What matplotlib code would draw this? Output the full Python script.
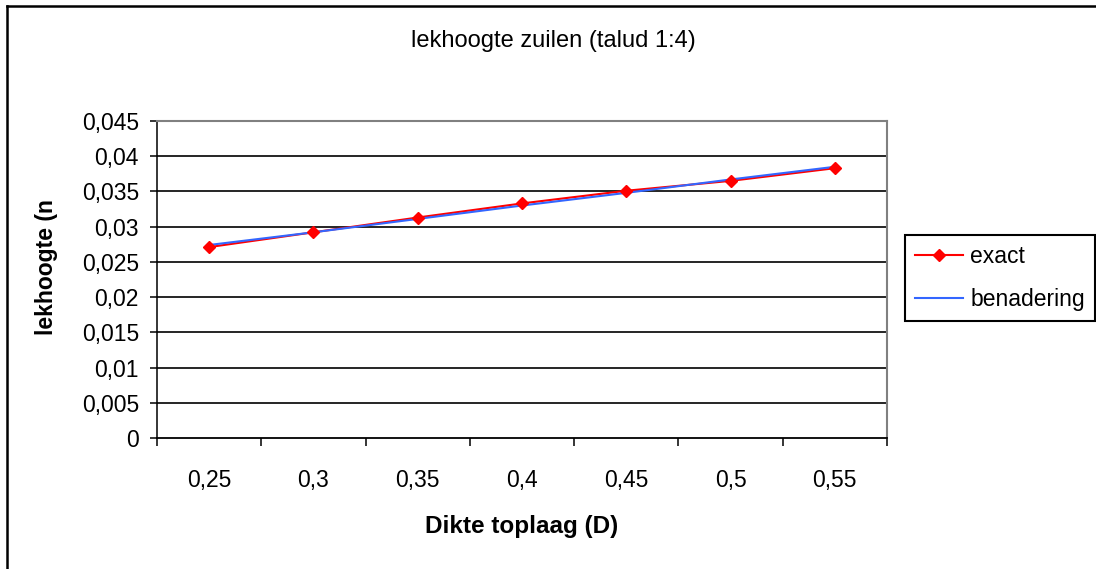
"""
Leakage height of column revetment (slope 1:4) versus top-layer thickness:
exact solution against the approximation formula.
"""

import matplotlib

matplotlib.use("Agg")

import matplotlib.pyplot as plt
from matplotlib.lines import Line2D

# ============================================================================
# Data
# ============================================================================

THICKNESS_LABELS = ["0,25", "0,3", "0,35", "0,4", "0,45", "0,5", "0,55"]
EXACT = [0.0271, 0.0292, 0.0313, 0.0333, 0.0351, 0.0365, 0.0383]
APPROX = [0.0274, 0.0292, 0.0311, 0.0330, 0.0348, 0.0367, 0.0385]

Y_TICKS = [0.0, 0.005, 0.01, 0.015, 0.02, 0.025, 0.03, 0.035, 0.04, 0.045]
Y_TICK_LABELS = ["0", "0,005", "0,01", "0,015", "0,02", "0,025", "0,03",
                 "0,035", "0,04", "0,045"]

TITLE = "lekhoogte zuilen (talud 1:4)"
X_LABEL = "Dikte toplaag (D)"
Y_LABEL = "lekhoogte (n"

# ============================================================================
# Style
# ============================================================================

W, H = 1096, 569
DPI = 100
FONT_SIZE = 16.5
RED = "#ff0000"
BLUE = "#3366ff"

plt.rcParams["font.family"] = ["Liberation Sans", "DejaVu Sans"]
plt.rcParams["font.size"] = FONT_SIZE


def px_x(x):
    return x / W


def px_y(y):
    return 1 - y / H


def main():
    fig = plt.figure(figsize=(W / DPI, H / DPI), dpi=DPI)
    fig.patch.set_facecolor("white")

    # plot area in pixel coordinates: left, top, right, bottom
    left, top, right, bottom = 157, 121, 887, 438
    ax = fig.add_axes([px_x(left), px_y(bottom),
                       (right - left) / W, (bottom - top) / H])

    xs = list(range(len(THICKNESS_LABELS)))

    ax.plot(xs, EXACT, color=RED, linewidth=1.5, zorder=3)
    ax.plot(xs, APPROX, color=BLUE, linewidth=1.5, zorder=4)
    ax.plot(xs, EXACT, linestyle="none", marker="D", markersize=6.2,
            color=RED, markeredgecolor=RED, zorder=5)

    ax.set_xlim(-0.5, len(xs) - 0.5)
    ax.set_ylim(Y_TICKS[0], Y_TICKS[-1])

    # category boundaries carry the tick marks, centres carry the labels
    ax.set_xticks([i - 0.5 for i in range(len(xs) + 1)])
    ax.set_xticklabels([])
    ax.set_xticks(xs, minor=True)
    ax.set_xticklabels(THICKNESS_LABELS, minor=True)
    ax.tick_params(axis="x", which="major", direction="out", length=6,
                   width=1.1, color="black")
    ax.tick_params(axis="x", which="minor", length=0, pad=22,
                   labelsize=FONT_SIZE)

    ax.set_yticks(Y_TICKS)
    ax.set_yticklabels(Y_TICK_LABELS)
    ax.tick_params(axis="y", direction="out", length=5, width=1.1,
                   pad=8, labelsize=FONT_SIZE)

    for yv in Y_TICKS[1:-1]:
        ax.axhline(yv, color="black", linewidth=1.2, zorder=1)

    ax.spines["left"].set_color("black")
    ax.spines["bottom"].set_color("black")
    ax.spines["left"].set_linewidth(1.1)
    ax.spines["bottom"].set_linewidth(1.3)
    for side in ("top", "right"):
        ax.spines[side].set_color("#808080")
        ax.spines[side].set_linewidth(1.5)

    fig.text(px_x(553), px_y(41), TITLE, ha="center", va="center",
             fontsize=FONT_SIZE + 0.5)
    fig.text(px_x(522), px_y(527), X_LABEL, ha="center", va="center",
             fontsize=FONT_SIZE + 1, fontweight="bold")
    fig.text(px_x(47), px_y(267), Y_LABEL, ha="center", va="center",
             rotation=90, fontsize=FONT_SIZE, fontweight="bold")

    handles = [
        Line2D([], [], color=RED, linewidth=1.5, marker="D", markersize=6.2),
        Line2D([], [], color=BLUE, linewidth=1.5),
    ]
    leg = fig.legend(handles, ["exact", "benadering"],
                     loc="upper left",
                     bbox_to_anchor=(px_x(905), px_y(235)),
                     fontsize=FONT_SIZE, frameon=True, fancybox=False,
                     edgecolor="black", framealpha=1, borderpad=0.45,
                     handlelength=2.1, handletextpad=0.3, labelspacing=0.85,
                     borderaxespad=0)
    leg.get_frame().set_linewidth(1.5)

    # chart frame: only the top and left edges fall inside the image
    fig.add_artist(Line2D([px_x(7), px_x(7)], [px_y(6), 0],
                          color="black", linewidth=1.8))
    fig.add_artist(Line2D([px_x(7), 1], [px_y(6), px_y(6)],
                          color="black", linewidth=1.8))

    fig.savefig("out.png", dpi=DPI)
    plt.close(fig)


if __name__ == "__main__":
    main()
